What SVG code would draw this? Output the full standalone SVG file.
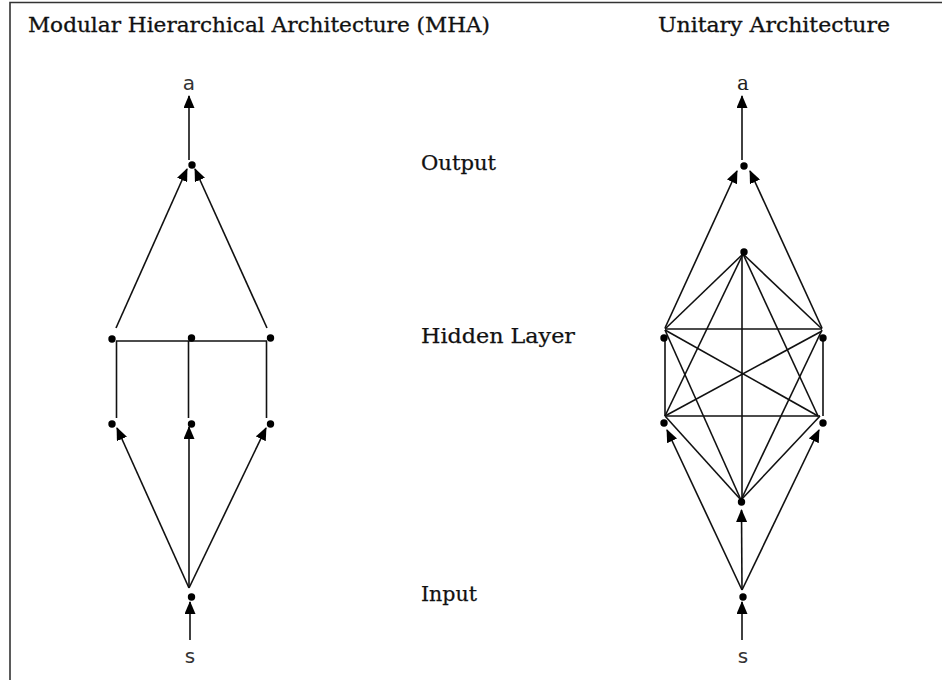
<svg xmlns="http://www.w3.org/2000/svg" width="942" height="680" viewBox="0 0 942 680">
  <style>
    .title { font-family: "DejaVu Serif", "Liberation Serif", serif; font-size: 20px; fill: #111; stroke: #111; stroke-width: 0.3; }
    .layer { font-family: "DejaVu Serif", "Liberation Serif", serif; font-size: 20px; fill: #111; stroke: #111; stroke-width: 0.25; }
    .io { font-family: "DejaVu Sans", "Liberation Sans", sans-serif; font-size: 20px; fill: #333; text-anchor: middle; }
    .ios { font-family: "DejaVu Serif", "Liberation Serif", serif; font-size: 20px; fill: #222; text-anchor: middle; }
    .dot { fill: #000; }
    .edge { stroke: #111; stroke-width: 1.6; fill: none; }
    .arrow { stroke: #111; stroke-width: 1.6; fill: none; marker-end: url(#head); }
    .frame { stroke: #333; stroke-width: 1.6; fill: none; }
  </style>
  <defs>
    <marker id="head" markerUnits="userSpaceOnUse" markerWidth="13" markerHeight="11" refX="12" refY="5.5" orient="auto">
      <path d="M0,0 L13,5.5 L0,11 z" fill="#000"/>
    </marker>
  </defs>

  <rect width="942" height="680" fill="#fff"/>
  <path class="frame" d="M10,680 V2.5 H942"/>

  <!-- headings -->
  <text class="title" x="28" y="32" textLength="462" lengthAdjust="spacingAndGlyphs">Modular Hierarchical Architecture (MHA)</text>
  <text class="title" x="658" y="32" textLength="232" lengthAdjust="spacingAndGlyphs">Unitary Architecture</text>

  <!-- layer names -->
  <text class="layer" x="421" y="170" textLength="75" lengthAdjust="spacingAndGlyphs">Output</text>
  <text class="layer" x="421" y="343" textLength="154" lengthAdjust="spacingAndGlyphs">Hidden Layer</text>
  <text class="layer" x="421" y="601" textLength="56" lengthAdjust="spacingAndGlyphs">Input</text>

  <!-- connectors -->
  <g id="connectors">
    <!-- MHA -->
    <line class="arrow" x1="189" y1="160" x2="189" y2="96"/>
    <line class="arrow" x1="116" y1="328" x2="187" y2="169"/>
    <line class="arrow" x1="267" y1="328" x2="195" y2="169"/>
    <line class="edge" x1="116" y1="341" x2="267" y2="341"/>
    <line class="edge" x1="116.5" y1="341" x2="116.5" y2="418"/>
    <line class="edge" x1="188.5" y1="341" x2="188.5" y2="418"/>
    <line class="edge" x1="266.5" y1="341" x2="266.5" y2="418"/>
    <line class="arrow" x1="189" y1="588" x2="117" y2="428"/>
    <line class="arrow" x1="189" y1="588" x2="189" y2="427"/>
    <line class="arrow" x1="189" y1="588" x2="266" y2="428"/>
    <line class="arrow" x1="190" y1="640" x2="190" y2="602"/>

    <!-- Unitary -->
    <line class="arrow" x1="742" y1="160" x2="742" y2="96"/>
    <line class="arrow" x1="665" y1="328" x2="737" y2="171"/>
    <line class="arrow" x1="822" y1="328" x2="750" y2="171"/>
    <line class="edge" x1="743" y1="254" x2="665" y2="329"/>
    <line class="edge" x1="743" y1="254" x2="822" y2="329"/>
    <line class="edge" x1="743" y1="254" x2="665" y2="416"/>
    <line class="edge" x1="743" y1="254" x2="818" y2="416"/>
    <line class="edge" x1="742" y1="254" x2="742" y2="500"/>
    <line class="edge" x1="665" y1="329" x2="822" y2="329"/>
    <line class="edge" x1="665" y1="416" x2="820" y2="416"/>
    <line class="edge" x1="665" y1="338" x2="665" y2="416"/>
    <line class="edge" x1="823" y1="340" x2="823" y2="416"/>
    <line class="edge" x1="665" y1="330" x2="818" y2="416"/>
    <line class="edge" x1="822" y1="331" x2="665" y2="416"/>
    <line class="edge" x1="665" y1="330" x2="741" y2="500"/>
    <line class="edge" x1="822" y1="330" x2="741" y2="500"/>
    <line class="edge" x1="665" y1="416" x2="741" y2="500"/>
    <line class="edge" x1="820" y1="416" x2="741" y2="500"/>
    <line class="arrow" x1="742" y1="590" x2="667" y2="430"/>
    <line class="arrow" x1="742" y1="590" x2="741.5" y2="510"/>
    <line class="arrow" x1="742" y1="590" x2="819" y2="430"/>
    <line class="arrow" x1="742" y1="640" x2="742" y2="602"/>
  </g>

  <!-- MHA nodes -->
  <g id="mha-a"><text class="io" x="189" y="90">a</text></g>
  <g id="mha-out"><circle class="dot" cx="192" cy="165" r="3.7"/></g>
  <g id="mha-h1a"><circle class="dot" cx="112" cy="339" r="3.7"/></g>
  <g id="mha-h2a"><circle class="dot" cx="191.5" cy="338" r="3.7"/></g>
  <g id="mha-h3a"><circle class="dot" cx="270.5" cy="338" r="3.7"/></g>
  <g id="mha-h1b"><circle class="dot" cx="112" cy="424" r="3.7"/></g>
  <g id="mha-h2b"><circle class="dot" cx="191.5" cy="424" r="3.7"/></g>
  <g id="mha-h3b"><circle class="dot" cx="270.5" cy="424" r="3.7"/></g>
  <g id="mha-in"><circle class="dot" cx="191.5" cy="597" r="3.7"/></g>
  <g id="mha-s"><text class="io" x="190" y="663">s</text></g>

  <!-- Unitary nodes -->
  <g id="uni-a"><text class="ios" x="743" y="90">a</text></g>
  <g id="uni-out"><circle class="dot" cx="744" cy="166" r="3.7"/></g>
  <g id="uni-top"><circle class="dot" cx="744" cy="252" r="3.7"/></g>
  <g id="uni-ul"><circle class="dot" cx="664" cy="338" r="3.7"/></g>
  <g id="uni-ur"><circle class="dot" cx="823" cy="338" r="3.7"/></g>
  <g id="uni-ll"><circle class="dot" cx="664" cy="423" r="3.7"/></g>
  <g id="uni-lr"><circle class="dot" cx="823" cy="423" r="3.7"/></g>
  <g id="uni-bot"><circle class="dot" cx="741.5" cy="502" r="3.7"/></g>
  <g id="uni-in"><circle class="dot" cx="743" cy="597" r="3.7"/></g>
  <g id="uni-s"><text class="io" x="743" y="663">s</text></g>
</svg>
